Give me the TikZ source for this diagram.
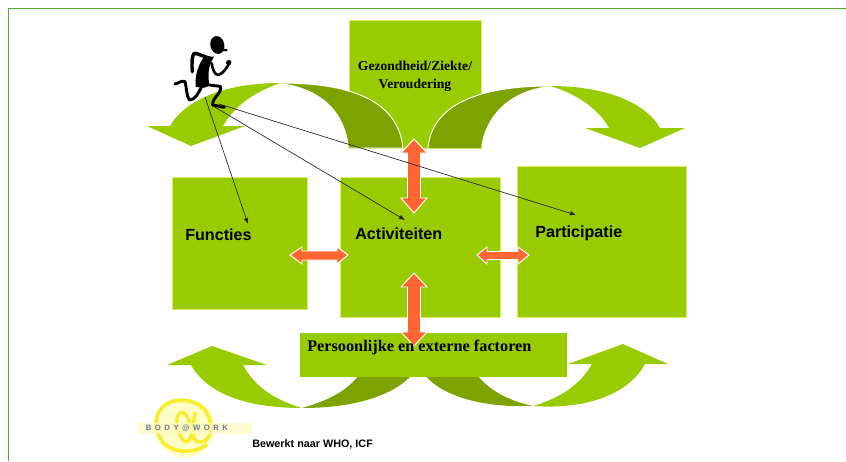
\documentclass[tikz,border=0pt]{standalone}
\usepackage{fontspec}
\setmainfont{Liberation Serif}
\setsansfont{Liberation Sans}
\definecolor{lime}{HTML}{99CC00}
\definecolor{limedark}{HTML}{7DA300}
\definecolor{orangearrow}{HTML}{FF6633}
\definecolor{edgegreen}{HTML}{4CAF2A}
\definecolor{boxedge}{HTML}{DDEE66}
\definecolor{logoyellow}{HTML}{F8EE30}
\definecolor{logopale}{HTML}{FFFDC8}
\definecolor{logoband}{HTML}{FDFBC0}
\definecolor{logoblue}{HTML}{6F7698}
\usetikzlibrary{arrows.meta}
\tikzset{
  panel/.style={fill=lime,draw=boxedge,line width=.6pt},
  sweep/.style={fill=lime,draw=none},
  sweepdark/.style={fill=limedark,draw=none},
  twohead/.style={fill=orangearrow,draw=white,line width=.7pt,line join=miter},
  pointer/.style={draw=black!85,line width=.5pt,-{Latex[length=4.5pt,width=3.5pt]}},
  sanslabel/.style={font=\sffamily\bfseries\fontsize{12.1}{14}\selectfont,anchor=west,inner sep=0pt},
  seriflabel/.style={align=center,inner sep=0pt},
}
\begin{document}
\begin{tikzpicture}[x=0.75pt,y=-0.75pt]
\useasboundingbox (0,0) rectangle (846,461);
% page frame
\draw[edgegreen,line width=1pt] (8.5,461) -- (8.5,8.5) -- (846,8.5);
% top box and arcs
\node[panel,minimum width=99pt,minimum height=96pt,inner sep=0pt,anchor=north west] (health) at (349,20) {};
\path[sweepdark] (403,148) .. controls (398,100) and (350,83) .. (280,83) .. controls (320,88) and (345,110) .. (349,148) -- cycle;
\draw[white,line width=.7pt] (349,148) -- (403,148) .. controls (398,100) and (350,83) .. (280,83);
\path[sweep] (280,83) .. controls (225,83) and (185,100) .. (170,126) -- (147,126) -- (191,146) -- (245,126) -- (223,126) .. controls (235,105) and (255,92) .. (280,83) -- cycle;
\path[sweepdark] (428,148) .. controls (432,104) and (480,86) .. (550,86) .. controls (510,90) and (485,115) .. (481,148) -- cycle;
\draw[white,line width=.7pt] (428,148) .. controls (432,104) and (480,86) .. (550,86);
\path[sweep] (550,86) .. controls (605,86) and (645,102) .. (660,128) -- (685,128) -- (640,148) -- (585,128) -- (609,128) .. controls (598,108) and (575,93) .. (550,86) -- cycle;
% bottom arcs
\path[sweepdark] (302,408) .. controls (355,408) and (400,395) .. (417,368) -- (364,368) .. controls (350,390) and (330,400) .. (302,408) -- cycle;
\path[sweep] (302,408) .. controls (245,408) and (207,393) .. (191,365) -- (167,365) -- (212,346) -- (267,365) -- (243,365) .. controls (255,387) and (275,400) .. (302,408) -- cycle;
\path[sweepdark] (533,406) .. controls (480,408) and (435,395) .. (420,368) -- (472,368) .. controls (485,388) and (505,400) .. (533,406) -- cycle;
\path[sweep] (533,406) .. controls (590,410) and (630,392) .. (645,364) -- (668,364) -- (623,344) -- (568,364) -- (592,364) .. controls (580,385) and (560,398) .. (533,406) -- cycle;
% panels
\node[panel,minimum width=101pt,minimum height=99pt,inner sep=0pt,anchor=north west] (func) at (172,177) {};
\node[panel,minimum width=120pt,minimum height=105.5pt,inner sep=0pt,anchor=north west] (act) at (340,176.5) {};
\node[panel,minimum width=127pt,minimum height=113pt,inner sep=0pt,anchor=north west] (part) at (517,166) {};
\node[fill=lime,minimum width=200pt,minimum height=33pt,inner sep=0pt,anchor=north west] (pers) at (300,333) {};
% double arrows
\path[twohead] (414,139) -- (427,153) -- (420.5,153) -- (420.5,198) -- (427,198) -- (414,213) -- (401,198) -- (407.5,198) -- (407.5,153) -- (401,153) -- cycle;
\path[twohead] (414,273) -- (427,287) -- (420.5,287) -- (420.5,332) -- (427,332) -- (414,346) -- (401,332) -- (407.5,332) -- (407.5,287) -- (401,287) -- cycle;
\path[twohead] (290,255) -- (302,247) -- (302,251) -- (337,251) -- (337,247) -- (348,255) -- (337,264) -- (337,260) -- (302,260) -- (302,264) -- cycle;
\path[twohead] (477,255) -- (487,247) -- (487,251.5) -- (518,251.5) -- (518,247) -- (529,255) -- (518,264) -- (518,259.5) -- (487,259.5) -- (487,264) -- cycle;
% labels
\node[seriflabel,font=\rmfamily\bfseries\fontsize{10.2}{13.5}\selectfont] (healthtext) at (415,76.5) {Gezondheid/Ziekte/\\Veroudering};
\node[sanslabel] (functext) at (185,234.5) {Functies};
\node[sanslabel] (acttext) at (355,234) {Activiteiten};
\node[sanslabel] (parttext) at (535,233) {Participatie};
\node[seriflabel,anchor=west,font=\rmfamily\bfseries\fontsize{12.2}{14}\selectfont] (perstext) at (307,347.5) {Persoonlijke en externe factoren};
\node[font=\sffamily\bfseries\fontsize{8.1}{10}\selectfont,anchor=west,inner sep=0pt] (credit) at (252,444.5) {Bewerkt naar WHO, ICF};
% logo
\fill[logopale] (185,428) circle (29.5);
\draw[logoyellow,line width=2.8pt] (207,444) .. controls (196,454) and (172,454) .. (162,441) .. controls (152,427) and (155,410) .. (168,403) .. controls (182,397) and (200,401) .. (207,413) .. controls (214,425) and (211,441) .. (201,442) .. controls (195,443) and (192,437) .. (193,430);
\draw[logoyellow,line width=2.8pt] (195,412) -- (192,434);
\draw[logoyellow,line width=2.6pt,rotate around={12:(184,427)}] (184,427) ellipse (6.5 and 15);
\fill[logoband,opacity=.75] (138,423) rectangle (252,434);
\node[font=\sffamily\bfseries\fontsize{5.8}{6}\selectfont,text=logoblue,inner sep=0pt] (logotext) at (187,428.5) {B\hspace{2.6pt}O\hspace{2.6pt}D\hspace{2.6pt}Y\hspace{2.6pt}@\hspace{2.6pt}W\hspace{2.6pt}O\hspace{2.6pt}R\hspace{2.6pt}K};
% runner
\begin{scope}[shift={(130,20)},x=0.25pt,y=-0.25pt]
\fill[black,rotate around={12:(262,75)}] (262,75) ellipse (21 and 27);
\fill[black] (262,82) -- (292,88) -- (292,93) -- (258,95) -- cycle;
\fill[black] (197,200) .. controls (194,165) and (205,135) .. (222,110) -- (252,110) .. controls (240,130) and (232,150) .. (237,190) .. controls (240,205) and (215,205) .. (197,200) -- cycle;
\draw[black,line width=2.6pt,line cap=round,line join=round] (240,115) .. controls (220,110) and (205,100) .. (192,100) .. controls (185,110) and (185,135) .. (187,155);
\draw[black,line width=2pt,line cap=round,line join=round] (245,130) .. controls (248,150) and (255,165) .. (265,165) .. controls (280,160) and (290,145) .. (300,125);
\fill[black] (296,128) circle (8);
\draw[black,line width=2.2pt,line cap=round,line join=round] (215,200) .. controls (205,220) and (195,240) .. (178,240) .. controls (168,225) and (170,200) .. (165,185) .. controls (155,180) and (145,190) .. (135,192);
\draw[black,line width=2.2pt,line cap=round,line join=round] (225,190) .. controls (245,200) and (260,195) .. (272,200) .. controls (275,220) and (245,235) .. (248,255) -- (283,262);
\end{scope}
\coordinate (footA) at (205,97);
\coordinate (footB) at (213,106);
\coordinate (footC) at (219,104);
\coordinate (tipfunc) at (248,224);
\coordinate (tipact) at (405,220);
\coordinate (tippart) at (576,215);
\draw[pointer] (footA) -- (tipfunc);
\draw[pointer] (footB) -- (tipact);
\draw[pointer] (footC) -- (tippart);
\end{tikzpicture}
\end{document}
